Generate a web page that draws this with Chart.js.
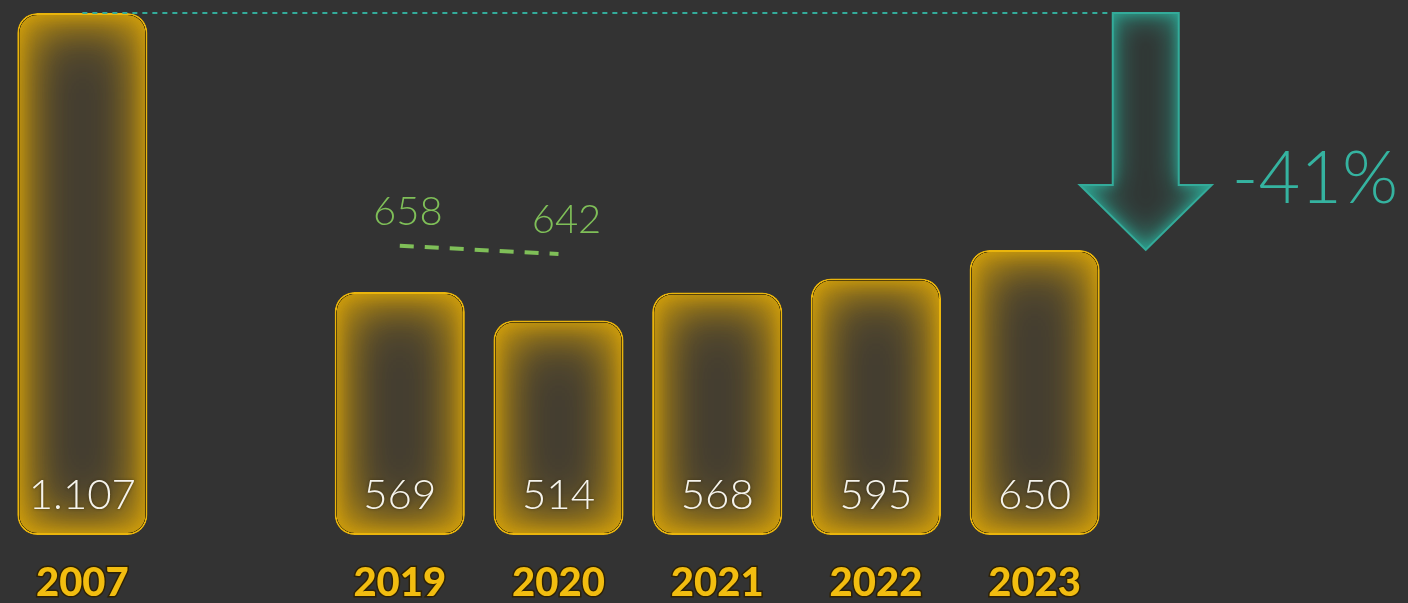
<!DOCTYPE html>
<html>
<head>
<meta charset="utf-8">
<script src="https://cdn.jsdelivr.net/npm/chart.js@4.4.1/dist/chart.umd.min.js"></script>
<style>
  html, body { margin: 0; padding: 0; background: #333333; overflow: hidden; }
  #wrap { width: 1408px; height: 603px; }
</style>
</head>
<body>
<div id="wrap"><canvas id="chart" width="1408" height="603"></canvas></div>
<script>
// values
const years = ['2007', '', '2019', '2020', '2021', '2022', '2023'];
const visitors = [1107, null, 569, 514, 568, 595, 650];
const valueLabels = ['1.107', '', '569', '514', '568', '595', '650'];
const refLine = [null, null, 658, 642, null, null, null];
const refLabels = ['', '', '658', '642', '', '', ''];
const changeLabel = '-41%';

const GOLD = '#eab50c';
const GREEN = '#7fbf58';
const TEAL = '#33ab9a';
const Y_MIN = 100;

// inner glow for bars + value labels
const barGlow = {
  id: 'barGlow',
  afterDatasetDraw(chart, args) {
    if (args.index !== 0) return;
    const ctx = chart.ctx;
    args.meta.data.forEach((bar, i) => {
      if (visitors[i] == null) return;
      const p = bar.getProps(['x', 'y', 'base', 'width'], true);
      const bw = 2;
      const l = p.x - p.width / 2 + bw;
      const t = p.y + bw;
      const w = p.width - bw * 2;
      const h = p.base - p.y - bw * 2;
      const r = 18;
      ctx.save();
      ctx.beginPath();
      ctx.roundRect(l, t, w, h, r);
      ctx.clip();
      [[70, 0.9], [40, 0.85], [16, 0.8]].forEach(([blur, a]) => {
        ctx.beginPath();
        ctx.rect(l - 400, t - 400, w + 800, h + 800);
        ctx.roundRect(l, t, w, h, r);
        ctx.shadowColor = `rgba(214,162,10,${a})`;
        ctx.shadowBlur = blur;
        ctx.fillStyle = '#000';
        ctx.fill('evenodd');
      });
      ctx.restore();

      ctx.save();
      ctx.font = '300 42px Lato';
      ctx.fillStyle = '#f5f3ec';
      ctx.shadowColor = 'rgba(40,30,0,0.6)';
      ctx.shadowBlur = 3;
      ctx.textAlign = 'center';
      ctx.textBaseline = 'middle';
      ctx.fillText(valueLabels[i], p.x, p.base - 40);
      ctx.restore();
    });
  },
};

// 658 / 642 labels, dotted reference line and the -41% arrow
const annotations = {
  id: 'annotations',
  afterDatasetsDraw(chart) {
    const ctx = chart.ctx;
    const xs = chart.scales.x;
    const ys = chart.scales.y;

    const lineMeta = chart.getDatasetMeta(1);
    ctx.save();
    ctx.font = '300 40px Lato';
    ctx.fillStyle = GREEN;
    ctx.textAlign = 'center';
    ctx.textBaseline = 'middle';
    lineMeta.data.forEach((pt, i) => {
      if (!refLabels[i]) return;
      ctx.fillText(refLabels[i], pt.x + 8, pt.y - 34);
    });
    ctx.restore();

    const first = 0;
    const last = visitors.length - 1;
    const slot = xs.getPixelForValue(1) - xs.getPixelForValue(0);
    const ax = xs.getPixelForValue(last) + slot * 0.7;
    const top = ys.getPixelForValue(visitors[first]);
    const tip = ys.getPixelForValue(visitors[last]);
    const sh = 33, hh = 66, headH = 65;

    // dotted line from the 2007 top
    ctx.save();
    ctx.strokeStyle = TEAL;
    ctx.lineWidth = 2;
    ctx.setLineDash([5, 5]);
    ctx.beginPath();
    ctx.moveTo(xs.getPixelForValue(first), top);
    ctx.lineTo(ax - sh, top);
    ctx.stroke();
    ctx.restore();

    // arrow
    const arrow = new Path2D();
    arrow.moveTo(ax - sh, top);
    arrow.lineTo(ax + sh, top);
    arrow.lineTo(ax + sh, tip - headH);
    arrow.lineTo(ax + hh, tip - headH);
    arrow.lineTo(ax, tip);
    arrow.lineTo(ax - hh, tip - headH);
    arrow.lineTo(ax - sh, tip - headH);
    arrow.closePath();

    ctx.save();
    ctx.fillStyle = '#313735';
    ctx.fill(arrow);
    ctx.clip(arrow);
    const frame = new Path2D();
    frame.rect(ax - 400, top - 400, 800, tip - top + 800);
    frame.addPath(arrow);
    [[30, 0.9], [12, 0.8]].forEach(([blur, a]) => {
      ctx.shadowColor = `rgba(45,175,155,${a})`;
      ctx.shadowBlur = blur;
      ctx.fillStyle = '#000';
      ctx.fill(frame, 'evenodd');
    });
    ctx.restore();

    ctx.save();
    ctx.strokeStyle = TEAL;
    ctx.lineWidth = 2;
    ctx.stroke(arrow);
    ctx.restore();

    ctx.save();
    ctx.font = '300 72px Lato';
    ctx.fillStyle = '#35b3a0';
    ctx.textAlign = 'left';
    ctx.textBaseline = 'middle';
    ctx.fillText(changeLabel, ax + 86, tip - 70);
    ctx.restore();
  },
};

new Chart(document.getElementById('chart'), {
  data: {
    labels: years,
    datasets: [
      {
        type: 'bar',
        data: visitors,
        base: Y_MIN,
        backgroundColor: '#3d3933',
        borderColor: GOLD,
        borderWidth: 2,
        borderRadius: 20,
        borderSkipped: false,
        barPercentage: 0.82,
        categoryPercentage: 1,
        clip: 4,
      },
      {
        type: 'line',
        data: refLine,
        borderColor: GREEN,
        borderWidth: 4,
        borderDash: [14, 11],
        pointRadius: 0,
        fill: false,
      },
    ],
  },
  options: {
    responsive: false,
    animation: false,
    layout: { padding: { left: 3, right: 294, top: 13, bottom: 0 } },
    plugins: { legend: { display: false }, tooltip: { enabled: false } },
    scales: {
      x: {
        afterFit(scale) { scale.height = 68; },
        grid: { display: false, drawTicks: false },
        border: { display: false },
        ticks: {
          padding: 24,
          maxRotation: 0,
          autoSkip: false,
          color: '#f2bd10',
          textStrokeColor: 'rgba(45,32,0,0.9)',
          textStrokeWidth: 3,
          font: { family: 'Lato', size: 40, weight: '900' },
        },
      },
      y: { display: false, min: Y_MIN, max: 1107 },
    },
  },
  plugins: [barGlow, annotations],
});
</script>
</body>
</html>
